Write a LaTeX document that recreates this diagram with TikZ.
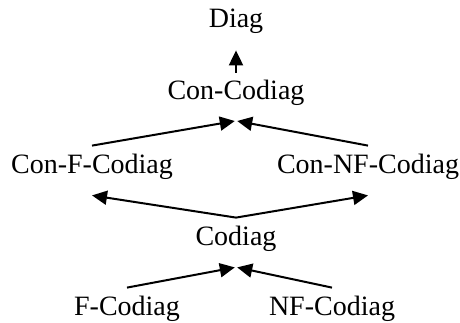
\documentclass[tikz,border=0pt]{standalone}
\usepackage{fontspec}
\setmainfont{Liberation Serif}
\usetikzlibrary{arrows.meta}

\tikzset{
  kind/.style={anchor=base, inner xsep=0pt, inner ysep=4pt,
    text height=9.5pt, text depth=3pt, font=\fontsize{14}{16}\selectfont},
  isa/.style={line width=1pt, -{Triangle[length=7.5pt,width=7pt]}}
}

\begin{document}
\begin{tikzpicture}[x=1pt, y=1pt]
  \useasboundingbox (0, 0) rectangle (230, 161);

  % classes, placed by their baselines
  \node[kind] (diag)    at (118, 147)  {Diag};
  \node[kind] (concod)  at (118, 111)  {Con-Codiag};
  \node[kind] (confcod) at (46, 74.5)  {Con-F-Codiag};
  \node[kind] (connf)   at (184, 74.5) {Con-NF-Codiag};
  \node[kind] (codiag)  at (118, 38.5) {Codiag};
  \node[kind] (fcod)    at (63.5, 3.5) {F-Codiag};
  \node[kind] (nfcod)   at (166, 3.5)  {NF-Codiag};

  % arrows
  \draw[isa] (concod.north) -- ([yshift=-4pt]diag.south);
  \draw[isa] (confcod.north) -- ([xshift=-0.6pt,yshift=-3.3pt]concod.south);
  \draw[isa] (connf.north)   -- ([xshift=0.6pt,yshift=-3.3pt]concod.south);
  \draw[isa] (codiag.north)  -- ([yshift=-4pt]confcod.south);
  \draw[isa] (codiag.north)  -- ([yshift=-4pt]connf.south);
  \draw[isa] (fcod.north)    -- ([xshift=-0.6pt,yshift=-4pt]codiag.south);
  \draw[isa] (nfcod.north)   -- ([xshift=0.6pt,yshift=-4pt]codiag.south);
\end{tikzpicture}
\end{document}
